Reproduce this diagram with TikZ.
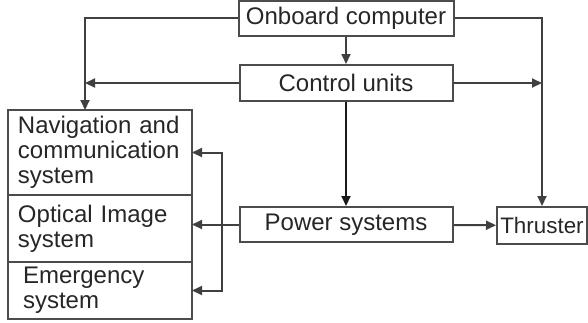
\documentclass[tikz,border=0pt]{standalone}
\usepackage{fontspec}
\setmainfont{Liberation Sans}
\usetikzlibrary{arrows.meta}

\begin{document}
\begin{tikzpicture}[x=0.5pt,y=-0.5pt,>={Triangle[length=5pt,width=4.5pt]},line width=1pt,
    font=\fontsize{12}{12.5}\selectfont,text=black!85,
    unit/.style={draw=black!70,inner sep=0pt,minimum height=17.5pt},
    subsys/.style={draw=black!70,inner xsep=5pt,inner ysep=0pt,outer sep=0pt,text width=82pt,align=left,anchor=north west}]
    \useasboundingbox (0,0) rectangle (588,322);
    \node[unit,minimum width=107.5pt] (obc) at (346,18) {Onboard computer};
    \node[unit,minimum width=106.5pt,minimum height=18pt] (ctl) at (346,83) {Control units};
    \node[unit,minimum width=106.5pt] (pwr) at (346,224.5) {Power systems};
    \node[unit,minimum width=45pt,minimum height=18.5pt,font=\fontsize{11.2}{12}\selectfont] (thr) at (542,225.5) {Thruster};
    \node[subsys,minimum height=42.5pt] (nav) at (8,110) {Navigation and\\communication\\system};
    \node[subsys,minimum height=33.5pt] (opt) at (nav.south west) {Optical Image\\system};
    \node[subsys,minimum height=28.5pt] (emg) at (opt.south west) {\hspace*{2.5pt}Emergency\\\hspace*{2.5pt}system};
    \coordinate (navin) at (85,110);
    \coordinate (bus) at (222,224.5);
    \draw[->,black!75] (obc) -- (ctl);
    \draw[->,black!75] (obc.west) -| (navin);
    \draw[->,black!75] (ctl.west) -- (ctl.west -| navin);
    \draw[->,black!75] (obc.east) -| (thr.north);
    \draw[->,black!75] (ctl.east) -- (ctl.east -| thr.north);
    \draw[->,black!90] (ctl) -- (pwr);
    \draw[->,black!75] (pwr) -- (thr);
    \draw[->,black!75] (pwr.west) -- (pwr.west -| opt.east);
    \draw[<->,black!75] (nav.east) -| (bus) |- (emg.east);
\end{tikzpicture}
\end{document}
